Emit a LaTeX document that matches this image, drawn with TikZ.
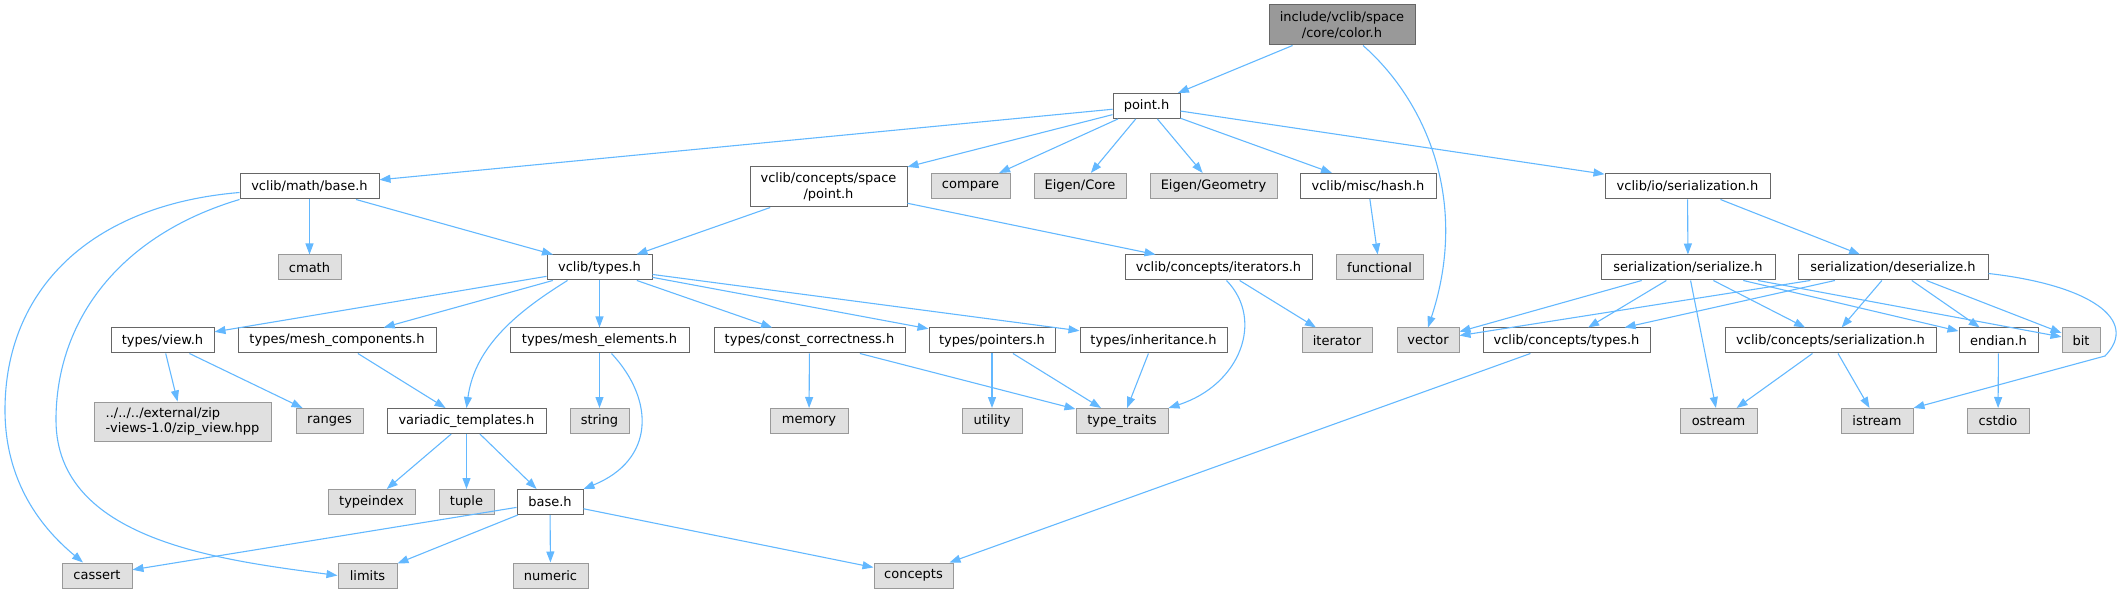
\documentclass[tikz,border=0pt]{standalone}
\usepackage{fontspec}
\setmainfont{DejaVu Sans}
\usetikzlibrary{arrows.meta}

\definecolor{edgeblue}{HTML}{63B8FF}
\definecolor{boxgray}{HTML}{666666}
\definecolor{sysgray}{HTML}{999999}
\definecolor{sysfill}{HTML}{E0E0E0}
\definecolor{rootfill}{HTML}{999999}

\begin{document}
\begin{tikzpicture}[
    x=1pt, y=-1pt,
    header/.style={rectangle, draw=boxgray, fill=white, line width=1pt, minimum height=25pt, inner sep=2pt, font=\fontsize{13}{15.5}\selectfont},
    stdhdr/.style={header, draw=sysgray, fill=sysfill},
    mainhdr/.style={header, fill=rootfill, align=center, minimum height=40pt},
    arrow/.style={-{Triangle[length=11pt,width=8pt]}, edgeblue, line width=1.1pt}
  ]
    \useasboundingbox (0,0) rectangle (2128,593);

    % Root file
    \node[mainhdr, minimum width=146pt] (color) at (1342,25) {include/vclib/space\\/core/color.h};

    % Level 1
    \node[header, minimum width=67pt] (point) at (1146.5,106) {point.h};

    % Level 2
    \node[header, minimum width=139pt] (mathbase) at (309.5,186.5) {vclib/math/base.h};
    \node[header, minimum width=157pt, minimum height=40pt, align=center] (cpoint) at (828.5,187) {vclib/concepts/space\\/point.h};
    \node[stdhdr, minimum width=79pt] (compare) at (970.5,186) {compare};
    \node[stdhdr, minimum width=92pt] (eigencore) at (1080,186) {Eigen/Core};
    \node[stdhdr, minimum width=127pt] (eigengeo) at (1213.5,186) {Eigen/Geometry};
    \node[header, minimum width=136pt] (hash) at (1368,186) {vclib/misc/hash.h};
    \node[header, minimum width=165pt] (ioser) at (1687.5,186.5) {vclib/io/serialization.h};

    % Level 3
    \node[stdhdr, minimum width=63pt] (cmath) at (309.5,267.5) {cmath};
    \node[header, minimum width=105pt] (types) at (599.5,267.5) {vclib/types.h};
    \node[header, minimum width=187pt] (iterators) at (1218.5,267.5) {vclib/concepts/iterators.h};
    \node[stdhdr, minimum width=87pt] (functional) at (1379.5,267.5) {functional};
    \node[header, minimum width=174pt] (serialize) at (1688,267.5) {serialization/serialize.h};
    \node[header, minimum width=190pt] (deserialize) at (1893,267.5) {serialization/deserialize.h};

    % Level 4
    \node[header, minimum width=103pt] (view) at (162.5,340.5) {types/view.h};
    \node[header, minimum width=198pt] (meshcomp) at (337,340.5) {types/mesh\_components.h};
    \node[header, minimum width=179pt] (meshelem) at (599.5,340.5) {types/mesh\_elements.h};
    \node[header, minimum width=191pt] (constcorr) at (809.5,340.5) {types/const\_correctness.h};
    \node[header, minimum width=126pt] (pointers) at (992,340.5) {types/pointers.h};
    \node[header, minimum width=147pt] (inherit) at (1153.5,340.5) {types/inheritance.h};
    \node[stdhdr, minimum width=70pt] (iterator) at (1337,340.5) {iterator};
    \node[stdhdr, minimum width=62pt] (vector) at (1428,340.5) {vector};
    \node[header, minimum width=167pt] (ctypes) at (1566.5,340.5) {vclib/concepts/types.h};
    \node[header, minimum width=211pt] (cser) at (1830.5,340.5) {vclib/concepts/serialization.h};
    \node[header, minimum width=79pt] (endian) at (1998.5,340.5) {endian.h};
    \node[stdhdr, minimum width=38pt] (bit) at (2081,340.5) {bit};

    % Level 5
    \node[stdhdr, minimum width=177pt, minimum height=39pt, align=left] (zipview) at (182.5,421.5) {../../../external/zip\\-views-1.0/zip\_view.hpp};
    \node[stdhdr, minimum width=67pt] (ranges) at (329.5,421) {ranges};
    \node[header, minimum width=159pt] (variadic) at (466.5,421) {variadic\_templates.h};
    \node[stdhdr, minimum width=59pt] (string) at (599.5,421) {string};
    \node[stdhdr, minimum width=78pt] (memory) at (809,421) {memory};
    \node[stdhdr, minimum width=60pt] (utility) at (992,421) {utility};
    \node[stdhdr, minimum width=92pt] (typetraits) at (1122,421) {type\_traits};
    \node[stdhdr, minimum width=77pt] (ostream) at (1718.5,421) {ostream};
    \node[stdhdr, minimum width=72pt] (istream) at (1877,421) {istream};
    \node[stdhdr, minimum width=62pt] (cstdio) at (1998,421) {cstdio};

    % Level 6
    \node[stdhdr, minimum width=87pt] (typeindex) at (371.5,502) {typeindex};
    \node[stdhdr, minimum width=55pt] (tuple) at (466.5,502) {tuple};
    \node[header, minimum width=66pt] (base) at (550,502) {base.h};

    % Level 7
    \node[stdhdr, minimum width=70pt] (cassert) at (97,575.5) {cassert};
    \node[stdhdr, minimum width=59pt] (limits) at (367.5,575.5) {limits};
    \node[stdhdr, minimum width=75pt] (numeric) at (550.5,575.5) {numeric};
    \node[stdhdr, minimum width=79pt] (concepts) at (913.5,575.5) {concepts};

    % Includes of color.h and point.h
    \draw[arrow] (color) -- (point);
    \draw[arrow] ([xshift=21pt]color.south) .. controls (1425,100) and (1470,200) .. (vector.north);
    \draw[arrow] (point) -- (mathbase);
    \draw[arrow] (point) -- (cpoint);
    \draw[arrow] (point) -- (compare);
    \draw[arrow] (point) -- (eigencore);
    \draw[arrow] (point) -- (eigengeo);
    \draw[arrow] (point) -- (hash);
    \draw[arrow] (point) -- (ioser);

    % math/base.h
    \draw[arrow] (mathbase) -- (cmath);
    \draw[arrow] (mathbase) -- (types);
    \draw[arrow] ([yshift=-6pt]mathbase.west) .. controls (90,205) and (5,290) .. (5,410) .. controls (5,490) and (50,535) .. ([xshift=-14pt]cassert.north);
    \draw[arrow] (mathbase.south west) .. controls (120,235) and (56,320) .. (56,420) .. controls (56,540) and (220,560) .. (limits.west);

    % concepts, hash, io
    \draw[arrow] (cpoint) -- (types);
    \draw[arrow] (cpoint) -- (iterators);
    \draw[arrow] (hash) -- (functional);
    \draw[arrow] (ioser) -- (serialize);
    \draw[arrow] (ioser) -- (deserialize);
    \draw[arrow] ([xshift=8pt]iterators.south) .. controls (1265,320) and (1240,385) .. (typetraits.north east);
    \draw[arrow] (iterators) -- (iterator);

    % vclib/types.h
    \draw[arrow] (types) -- (view);
    \draw[arrow] (types) -- (meshcomp);
    \draw[arrow] ([xshift=-32pt]types.south) .. controls (520,310) and (475,345) .. (variadic.north);
    \draw[arrow] (types) -- (meshelem);
    \draw[arrow] (types) -- (constcorr);
    \draw[arrow] (types) -- (pointers);
    \draw[arrow] (types) -- (inherit);

    % serialization
    \draw[arrow] (serialize) -- (vector);
    \draw[arrow] (serialize) -- (ctypes);
    \draw[arrow] (serialize) -- (ostream);
    \draw[arrow] (serialize) -- (cser);
    \draw[arrow] (serialize) -- (endian);
    \draw[arrow] (serialize) -- (bit);
    \draw[arrow] (deserialize) -- (vector);
    \draw[arrow] (deserialize) -- (ctypes);
    \draw[arrow] (deserialize) -- (cser);
    \draw[arrow] (deserialize) -- (endian);
    \draw[arrow] (deserialize) -- (bit);
    \draw[arrow] ([yshift=-6pt]deserialize.east) .. controls (2090,285) and (2140,320) .. (2105,356) -- (istream.north east);

    % types/*
    \draw[arrow] (view) -- (zipview);
    \draw[arrow] (view) -- (ranges);
    \draw[arrow] (meshcomp) -- (variadic);
    \draw[arrow] (meshelem) -- (string);
    \draw[arrow] ([xshift=12pt]meshelem.south) .. controls (655,400) and (655,460) .. (base.north east);
    \draw[arrow] (variadic) -- (typeindex);
    \draw[arrow] (variadic) -- (tuple);
    \draw[arrow] (variadic) -- (base);
    \draw[arrow] (constcorr) -- (memory);
    \draw[arrow] (constcorr) -- (typetraits);
    \draw[arrow] (pointers) -- (utility);
    \draw[arrow] (pointers) -- (typetraits);
    \draw[arrow] (inherit) -- (typetraits);

    % base.h and the rest
    \draw[arrow] (base) -- (cassert);
    \draw[arrow] (base) -- (limits);
    \draw[arrow] (base) -- (numeric);
    \draw[arrow] (base) -- (concepts);
    \draw[arrow] (ctypes) -- (concepts);
    \draw[arrow] (cser) -- (ostream);
    \draw[arrow] (cser) -- (istream);
    \draw[arrow] (endian) -- (cstdio);

  \end{tikzpicture}
\end{document}
